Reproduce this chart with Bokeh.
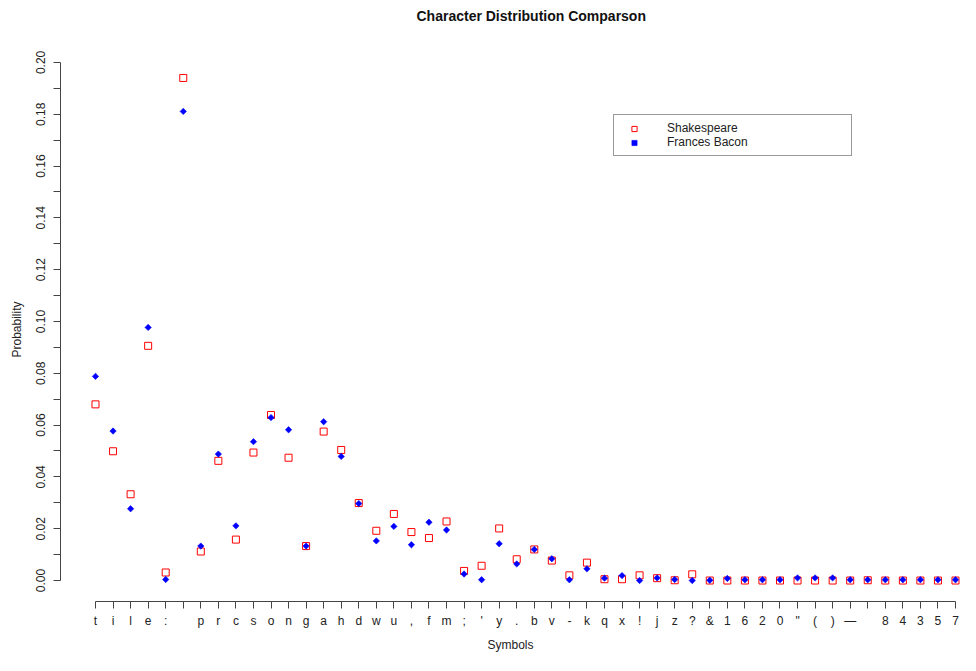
from bokeh.plotting import figure
from bokeh.models import Range1d, FixedTicker, PrintfTickFormatter, ColumnDataSource, Title
from bokeh.embed import file_html
from bokeh.resources import INLINE

symbols = ["t", "i", "l", "e", ":", " ", "p", "r", "c", "s", "o", "n", "g", "a", "h",
           "d", "w", "u", ",", "f", "m", ";", "'", "y", ".", "b", "v", "-", "k", "q",
           "x", "!", "j", "z", "?", "&", "1", "6", "2", "0", "\"", "(", ")", "\u2014", "",
           "8", "4", "3", "5", "7"]

shakespeare = [0.0680, 0.0499, 0.0333, 0.0906, 0.0031, 0.1940, 0.0112, 0.0462, 0.0158, 0.0494,
               0.0639, 0.0474, 0.0133, 0.0575, 0.0504, 0.0299, 0.0192, 0.0257, 0.0187, 0.0164,
               0.0228, 0.0037, 0.0057, 0.0201, 0.0082, 0.0120, 0.0077, 0.0020, 0.0069, 0.0005,
               0.0005, 0.0020, 0.0009, 0.0001, 0.0024, 0.0000, 0.0000, 0.0000, 0.0000, 0.0000,
               0.0000, 0.0000, 0.0000, 0.0000, 0.0001, 0.0000, 0.0000, 0.0000, 0.0000, 0.0000]

bacon = [0.0788, 0.0577, 0.0277, 0.0977, 0.0004, 0.1811, 0.0133, 0.0488, 0.0211, 0.0536,
         0.0629, 0.0582, 0.0133, 0.0613, 0.0479, 0.0297, 0.0153, 0.0209, 0.0138, 0.0225,
         0.0195, 0.0025, 0.0003, 0.0142, 0.0064, 0.0120, 0.0084, 0.0003, 0.0045, 0.0009,
         0.0019, 0.0000, 0.0010, 0.0004, 0.0000, 0.0001, 0.0008, 0.0003, 0.0003, 0.0003,
         0.0010, 0.0010, 0.0010, 0.0003, 0.0003, 0.0003, 0.0003, 0.0003, 0.0003, 0.0003]

y_ticks = [0.00, 0.02, 0.04, 0.06, 0.08, 0.10, 0.12, 0.14, 0.16, 0.18, 0.20]
y_minor = [0.01, 0.03, 0.05, 0.07, 0.09, 0.11, 0.13, 0.15, 0.17, 0.19]

title_text = "Character Distribution Comparson"

x = list(range(1, len(symbols) + 1))
src = ColumnDataSource(dict(x=x, s=shakespeare, b=bacon))

FONT = "Liberation Sans"

p = figure(width=960, height=655, output_backend="svg", toolbar_location=None,
           x_range=Range1d(-0.994, 50.285), y_range=Range1d(-0.0081, 0.2019),
           min_border_left=60, min_border_right=0, min_border_top=57, min_border_bottom=54,
           title=None)

# spacer between frame and title (closest to the frame), then the real title above it
p.add_layout(Title(text=" ", text_font=FONT, text_font_size="12px", standoff=13), "above")
p.add_layout(Title(text=title_text, align="left", offset=356, standoff=10, text_font=FONT,
                   text_font_size="14px", text_font_style="bold", text_color="#111111"), "above")

p.scatter("x", "s", source=src, marker="square", size=7, fill_color=None,
          line_color="red", line_width=1, legend_label="Shakespeare")
p.scatter("x", "b", source=src, marker="square", angle=0.785398, size=4.5,
          fill_color="blue", line_color="blue", line_width=0.6, legend_label="Frances Bacon")

p.outline_line_color = None
p.xgrid.grid_line_color = None
p.ygrid.grid_line_color = None
p.background_fill_color = "white"
p.border_fill_color = "white"

# x axis
xa = p.xaxis[0]
xa.ticker = FixedTicker(ticks=x)
xa.major_label_overrides = {i: s for i, s in zip(x, symbols)}
xa.bounds = (1, len(symbols))
xa.axis_label = "Symbols"
xa.axis_label_text_font = FONT
xa.axis_label_text_font_size = "12px"
xa.axis_label_text_font_style = "normal"
xa.axis_label_text_color = "#222222"
xa.axis_label_standoff = 7
xa.major_label_text_font = FONT
xa.major_label_text_font_size = "12px"
xa.major_label_text_color = "#222222"
xa.major_label_standoff = 5
xa.major_tick_out = 7
xa.major_tick_in = 0
xa.minor_tick_out = 0
xa.minor_tick_in = 0
xa.axis_line_color = "#444444"
xa.major_tick_line_color = "#444444"

# y axis
ya = p.yaxis[0]
ya.ticker = FixedTicker(ticks=y_ticks, minor_ticks=y_minor)
ya.formatter = PrintfTickFormatter(format="%.2f")
ya.bounds = (0, 0.2)
ya.major_label_orientation = "vertical"
ya.axis_label = "Probability"
ya.axis_label_text_font = FONT
ya.axis_label_text_font_size = "12px"
ya.axis_label_text_font_style = "normal"
ya.axis_label_text_color = "#222222"
ya.axis_label_standoff = 10
ya.major_label_text_font = FONT
ya.major_label_text_font_size = "12px"
ya.major_label_text_color = "#222222"
ya.major_label_standoff = 8
ya.major_tick_out = 7
ya.major_tick_in = 0
ya.minor_tick_out = 7
ya.minor_tick_in = 0
ya.axis_line_color = "#444444"
ya.major_tick_line_color = "#444444"
ya.minor_tick_line_color = "#444444"

lg = p.legend[0]
lg.location = (553, 445)
lg.padding = 6
lg.spacing = 0
lg.margin = 0
lg.glyph_width = 28
lg.glyph_height = 13
lg.label_height = 13
lg.label_standoff = 19
lg.label_width = 178
lg.label_text_font = FONT
lg.label_text_font_size = "12px"
lg.label_text_color = "#222222"
lg.border_line_color = "#333333"
lg.border_line_width = 1
lg.background_fill_alpha = 1

open("out.html", "w").write(file_html(p, INLINE))
